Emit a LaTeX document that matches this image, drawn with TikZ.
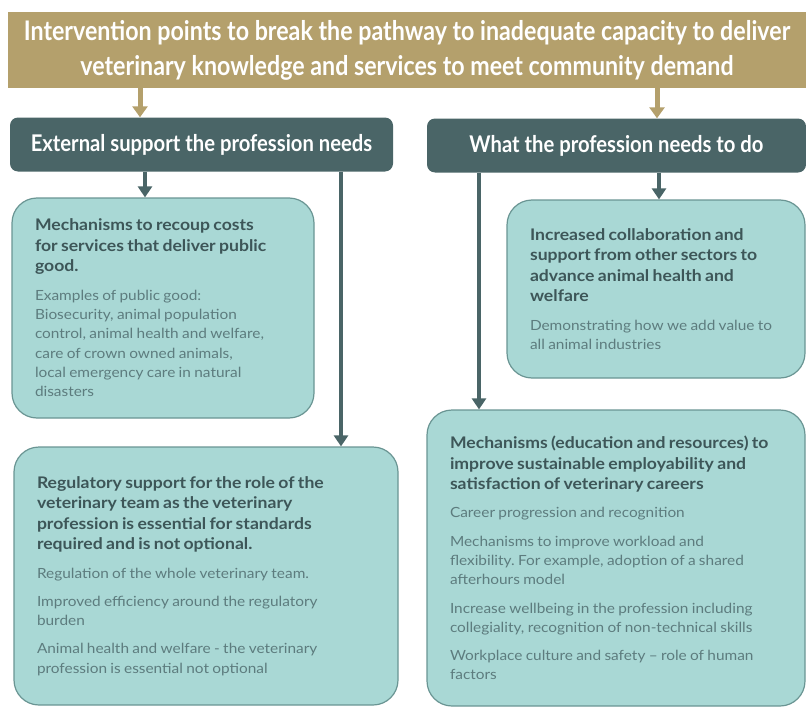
\documentclass[tikz,border=0pt]{standalone}
\usepackage{fontspec}
\setmainfont{Lato}
\newfontfamily\narrowfont[FakeStretch=0.86]{Lato}
\newfontfamily\headfont[FakeStretch=0.88]{Lato}
\newfontfamily\cardfont[FakeStretch=1.1]{Lato}
\usetikzlibrary{arrows.meta,positioning}
\frenchspacing

\definecolor{bannergold}{HTML}{B4A06C}
\definecolor{slate}{HTML}{4A6567}
\definecolor{cardfill}{HTML}{A9D8D5}
\definecolor{cardedge}{HTML}{6A9593}
\definecolor{cardtitle}{HTML}{3D5658}
\definecolor{cardbody}{HTML}{5D7C7E}

% bold heading and plain item lines inside a card
\newcommand{\cardhead}[1]{{\cardfont\fontsize{16}{20.5}\selectfont\bfseries\color{cardtitle}#1\par}}
\newcommand{\carditem}[1]{\vspace{9pt}{\cardfont\fontsize{14}{19.3}\selectfont\color{cardbody}#1\par}}

\begin{document}
\begin{tikzpicture}[x=1pt, y=-1pt,
    banner/.style={fill=bannergold, text=white, align=center, inner sep=0pt,
      minimum width=798pt, minimum height=76pt,
      font=\narrowfont\bfseries\fontsize{27}{35}\selectfont},
    headbox/.style={fill=slate, text=white, rounded corners=8pt, inner sep=0pt,
      minimum height=54pt, font=\headfont\bfseries\fontsize{23}{26}\selectfont},
    card/.style={draw=cardedge, line width=1.2pt, fill=cardfill, rounded corners=25pt,
      align=left, inner xsep=23pt, inner ysep=0pt},
    goldflow/.style={draw=bannergold, line width=5pt, -{Triangle[width=15pt,length=11pt]}},
    flow/.style={draw=slate, line width=4pt, -{Triangle[width=14pt,length=11pt]}}]

  \useasboundingbox (0,0) rectangle (806,709);

  \node[banner] (banner) at (407,50)
    {Intervention points to break the pathway to inadequate capacity to deliver\\
     veterinary knowledge and services to meet community demand};

  % the two branches
  \node[headbox, minimum width=383pt] (headL) at (201.5,144.5) {External support the profession needs};
  \node[headbox, minimum width=379pt] (headR) at (616.5,145.5) {What the profession needs to do};

  % cards
  \node[card, text width=256pt, minimum height=220pt] (costs) at (163,308) {%
    \cardhead{Mechanisms to recoup costs\\ for services that deliver public\\ good.}
    \carditem{Examples of public good:\\ Biosecurity, animal population\\ control, animal health and welfare,\\
      care of crown owned animals,\\ local emergency care in natural\\ disasters}};

  \node[card, text width=252pt, minimum height=178pt] (collab) at (656,289) {%
    \cardhead{Increased collaboration and\\ support from other sectors to\\ advance animal health and\\ welfare}
    \carditem{Demonstrating how we add value to\\ all animal industries}};

  \node[card, text width=338pt, minimum height=258pt] (regul) at (206,576) {%
    \cardhead{Regulatory support for the role of the\\ veterinary team as the veterinary\\
      profession is essential for standards\\ required and is not optional.}
    \carditem{Regulation of the whole veterinary team.}
    \carditem{Improved efficiency around the regulatory\\ burden}
    \carditem{Animal health and welfare - the veterinary\\ profession is essential not optional}};

  \node[card, text width=332pt, minimum height=296pt] (career) at (616,558) {%
    \cardhead{Mechanisms (education and resources) to\\ improve sustainable employability and\\
      satisfaction of veterinary careers}
    \carditem{Career progression and recognition}
    \carditem{Mechanisms to improve workload and\\ flexibility. For example, adoption of a shared\\ afterhours model}
    \carditem{Increase wellbeing in the profession including\\ collegiality, recognition of non-technical skills}
    \carditem{Workplace culture and safety – role of human\\ factors}};

  % arrows
  \draw[goldflow] ([xshift=-267pt]banner.south) -- ([xshift=-61.5pt]headL.north);
  \draw[goldflow] ([xshift=250pt]banner.south) -- ([xshift=40.5pt]headR.north);
  \draw[flow] ([xshift=-56.5pt]headL.south) -- ([xshift=-18pt]costs.north);
  \draw[flow] ([xshift=139.5pt]headL.south) -- ([xshift=135pt]regul.north);
  \draw[flow] ([xshift=-137.5pt]headR.south) -- ([xshift=-137pt]career.north);
  \draw[flow] ([xshift=42.5pt]headR.south) -- ([xshift=3pt]collab.north);
\end{tikzpicture}
\end{document}
